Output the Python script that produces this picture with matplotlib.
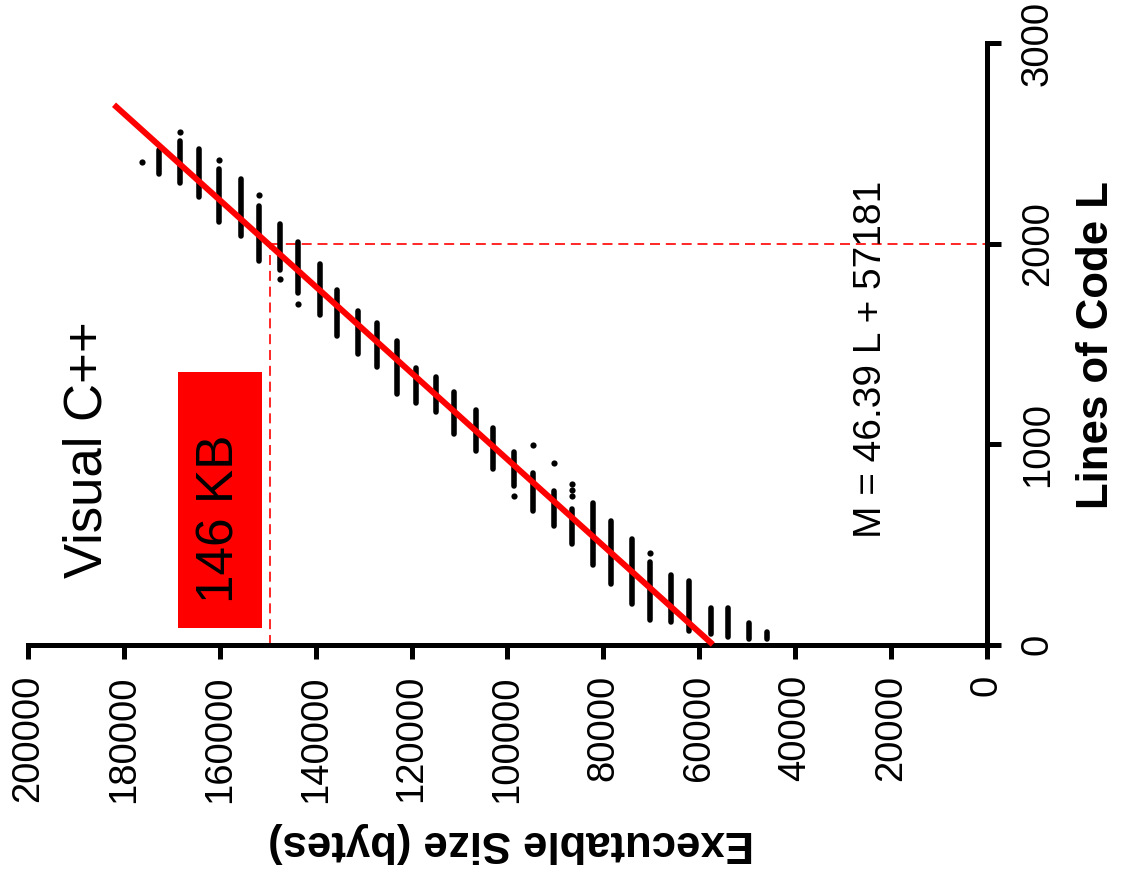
import numpy as np
import matplotlib
matplotlib.use("Agg")
import matplotlib.pyplot as plt
from matplotlib.patches import Rectangle

plt.rcParams['font.family'] = ['Liberation Sans', 'DejaVu Sans']

# executable size clusters (bytes) and the range of lines of code in each
sizes = [45800, 49600, 54000, 57600, 62100, 65900, 70300, 74000, 78400, 82200,
         86500, 90300, 94700, 98600, 103000, 106600, 111100, 114900, 119100, 123000,
         127300, 131100, 135500, 139200, 143600, 147400, 151800, 155600, 160100, 164400,
         168200, 172600]
loc_min = [26, 26, 35, 51, 68, 110, 123, 201, 304, 397,
           503, 591, 666, 791, 874, 965, 1048, 1161, 1206, 1251,
           1384, 1447, 1538, 1643, 1754, 1870, 1915, 2037, 2108, 2231,
           2302, 2347]
loc_max = [60, 105, 181, 181, 317, 345, 409, 525, 616, 708,
           674, 766, 857, 960, 1078, 1170, 1259, 1335, 1380, 1513,
           1605, 1663, 1767, 1900, 2007, 2099, 2186, 2322, 2372, 2472,
           2510, 2468]

# single programs lying off the strips
dot_size = [176300, 168200, 160100, 151800, 147400, 143600, 98600, 94700, 90300,
            86500, 86500, 86500, 70300]
dot_loc = [2406, 2555, 2414, 2240, 1825, 1700, 740, 994, 903, 800, 773, 740, 454]

# least squares fit M = 46.39 L + 57181
slope = 46.39
intercept = 57181
fit_loc = np.array([0, 2692])
target_loc = 2000
target_size = 146 * 1024

W, H = 1128, 882
fig = plt.figure(figsize=(W / 100, H / 100), dpi=100)
ax = fig.add_axes([28 / W, 1 - 644.5 / H, (987 - 28) / W, (644.5 - 43) / H])

ax.vlines(sizes, loc_min, loc_max, colors='black', linewidth=4.0, capstyle='round', zorder=3)
ax.scatter(dot_size, dot_loc, s=20, color='black', linewidths=0, zorder=3)
ax.plot(slope * fit_loc + intercept, fit_loc, color='red', linewidth=4.3,
        solid_capstyle='butt', zorder=4, clip_on=False)

ax.plot([target_size, target_size], [0, target_loc], color='red', linewidth=1.2,
        dashes=(6, 3.5), zorder=2)
ax.plot([target_size, 0], [target_loc, target_loc], color='red', linewidth=1.2,
        dashes=(6, 3.5), zorder=2)

ax.add_patch(Rectangle((151200, 82), 17500, 1276, facecolor='red', edgecolor='none', zorder=1))

ax.set_xlim(200000, 0)
ax.set_ylim(0, 3000)
ax.set_xticks(np.arange(0, 200001, 20000))
ax.set_yticks(np.arange(0, 3001, 1000))
ax.yaxis.tick_right()

for s in ['top', 'left']:
    ax.spines[s].set_visible(False)
for s in ['bottom', 'right']:
    ax.spines[s].set_linewidth(3.6)
    ax.spines[s].set_capstyle('projecting')

ax.tick_params(axis='both', direction='out', length=10, width=3.6, labelsize=27.5)
ax.tick_params(axis='x', pad=12)
ax.tick_params(axis='y', pad=13.5)
for lab in ax.get_xticklabels():
    lab.set_rotation(90)
    lab.set_ha('center')
    lab.set_va('top')
for lab in ax.get_yticklabels():
    lab.set_rotation(90)
    lab.set_ha('left')
    lab.set_va('center')

fig.text(511 / W, 1 - 843 / H, 'Executable Size (bytes)', fontsize=31.5, fontweight='bold',
         rotation=180, ha='center', va='center')
fig.text(1096 / W, 1 - 345 / H, 'Lines of Code L', fontsize=31.5, fontweight='bold',
         rotation=90, ha='center', va='center')
fig.text(87 / W, 1 - 450 / H, 'Visual C++', fontsize=38, rotation=90, ha='center', va='center')
fig.text(220 / W, 1 - 519 / H, '146 KB', fontsize=37, rotation=90, ha='center', va='center')
fig.text(871 / W, 1 - 359 / H, 'M = 46.39 L + 57181', fontsize=28, rotation=90,
         ha='center', va='center')

fig.savefig('out.png', dpi=100)
